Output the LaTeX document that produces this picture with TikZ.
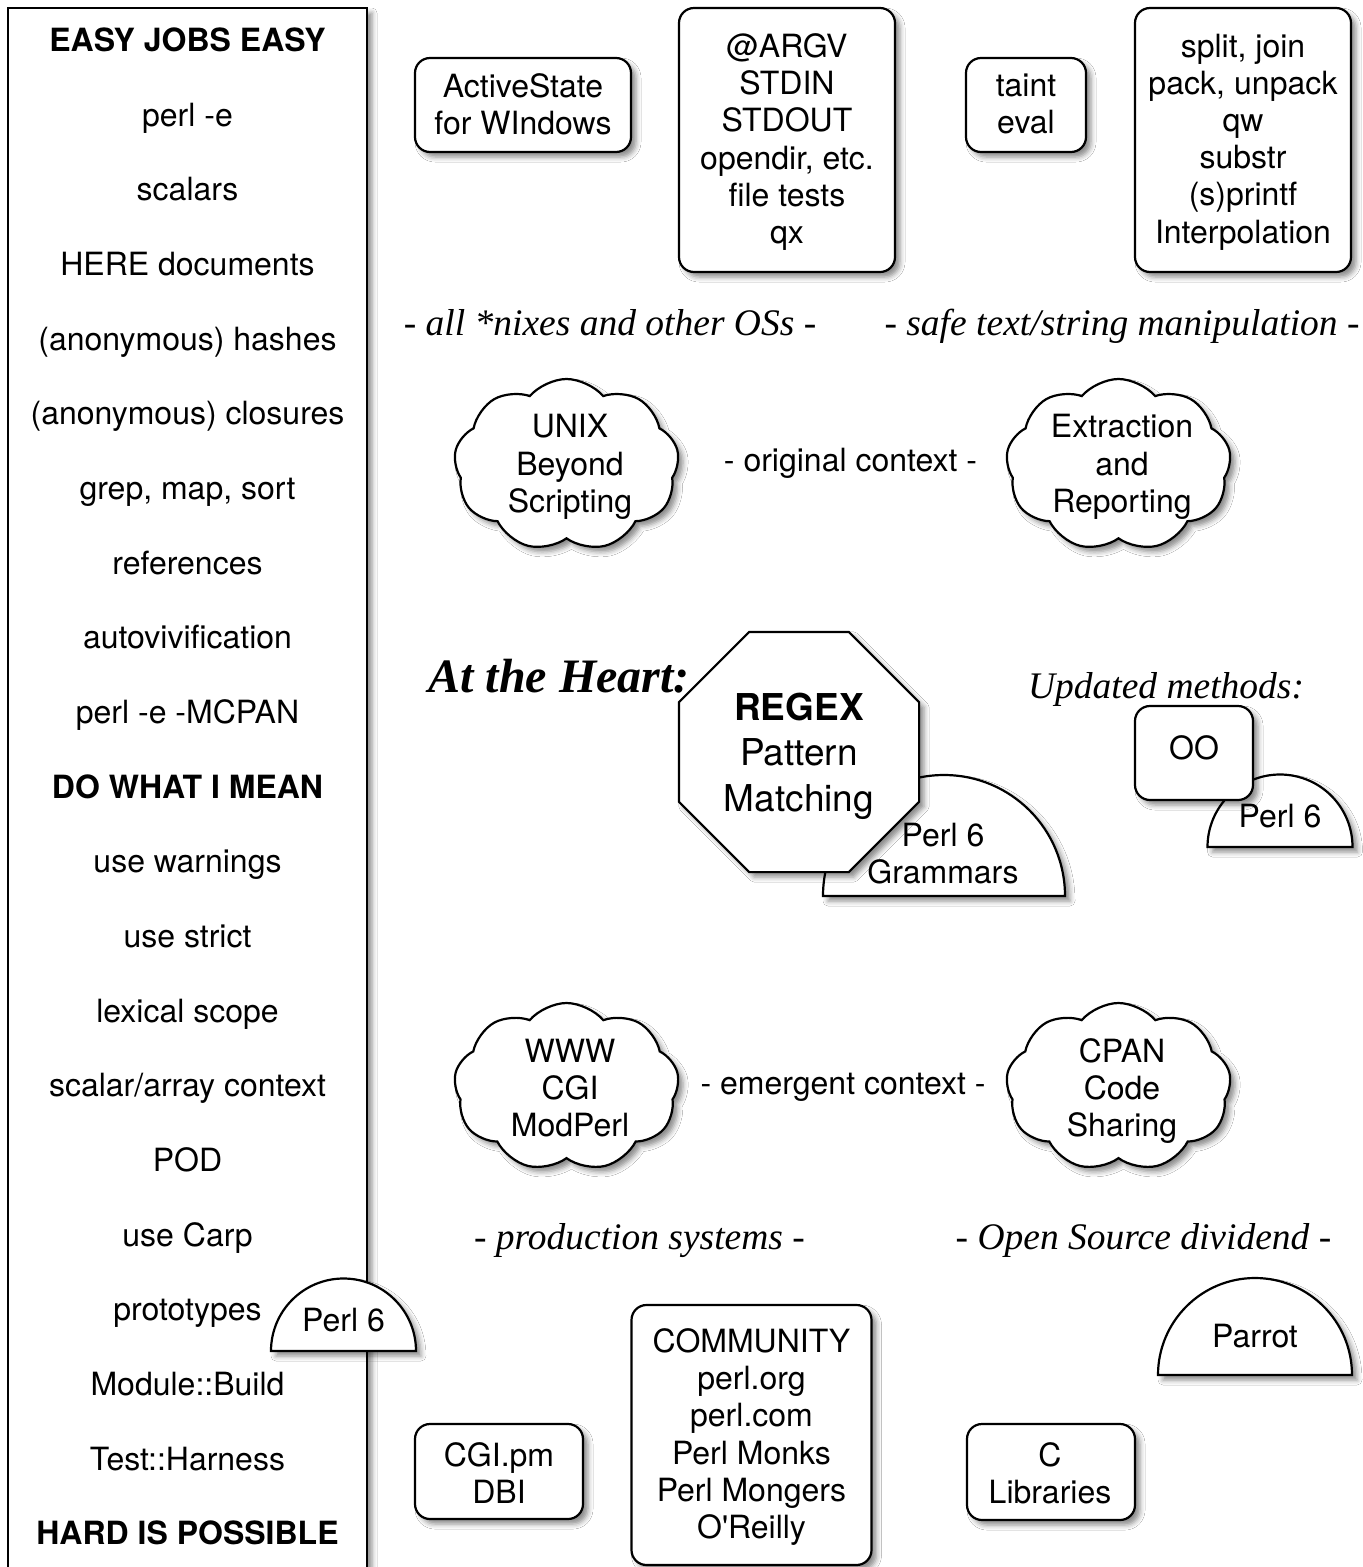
\documentclass[tikz,border=0pt]{standalone}
\usepackage{fontspec}
\setmainfont{Liberation Serif}
\setsansfont{TeX Gyre Heros}
\usetikzlibrary{shapes.geometric,shapes.symbols,shadows.blur}
\tikzset{
  shp/.style={draw=black, line width=2.2pt, fill=white,
    blur shadow={shadow xshift=5pt, shadow yshift=-5pt, shadow blur radius=5pt, shadow opacity=45}},
  rbox/.style={shp, rectangle, rounded corners=15pt, inner sep=0pt},
  cld/.style={shp, cloud, cloud puffs=9, cloud puff arc=100, inner sep=0pt},
  sans/.style={font=\sffamily\fontsize{32}{37.2}\selectfont, align=center, inner sep=0pt},
  col/.style={sans, anchor=base},
  ital/.style={font=\rmfamily\itshape\fontsize{37.5}{42}\selectfont, inner sep=0pt, anchor=base},
}
\begin{document}
\begin{tikzpicture}[x=1pt, y=1pt]
\useasboundingbox (0,0) rectangle (1363,-1567);
\fill[white] (0,0) rectangle (1363,-1567);

% left column
\path[shp] (8,-8) rectangle (367,-1620);
\node[col] (l1) at (187.5,-51.5) {\bfseries EASY JOBS EASY};
\node[col] (l2) at (187.5,-126.5) {perl -e};
\node[col] (l3) at (187.5,-200.5) {scalars};
\node[col] (l4) at (187.5,-275.5) {HERE documents};
\node[col] (l5) at (187.5,-350.5) {(anonymous) hashes};
\node[col] (l6) at (187.5,-424.5) {(anonymous) closures};
\node[col] (l7) at (187.5,-499.5) {grep, map, sort};
\node[col] (l8) at (187.5,-574.5) {references};
\node[col] (l9) at (187.5,-648.5) {autovivification};
\node[col] (l10) at (187.5,-723.5) {perl -e -MCPAN};
\node[col] (l11) at (187.5,-798.5) {\bfseries DO WHAT I MEAN};
\node[col] (l12) at (187.5,-872.5) {use warnings};
\node[col] (l13) at (187.5,-947.5) {use strict};
\node[col] (l14) at (187.5,-1022.5) {lexical scope};
\node[col] (l15) at (187.5,-1096.5) {scalar/array context};
\node[col] (l16) at (187.5,-1171.5) {POD};
\node[col] (l17) at (187.5,-1246.5) {use Carp};
\node[col] (l18) at (187.5,-1320.5) {prototypes};
\node[col] (l19) at (187.5,-1395.5) {Module::Build};
\node[col] (l20) at (187.5,-1470.5) {Test::Harness};
\node[col] (l21) at (187.5,-1544.5) {\bfseries HARD IS POSSIBLE};

% perl 6 half circle on left box
\path[shp] (271,-1351) arc[start angle=180, end angle=0, radius=72.5] -- cycle;
\node[col] (p6l) at (343.5,-1331.5) {Perl 6};

% top boxes
\node[rbox, minimum width=216pt, minimum height=94pt] (as) at (523,-105) {};
\node[sans] (ast) at (523,-104) {ActiveState\\for WIndows};
\node[rbox, minimum width=216pt, minimum height=264pt] (argv) at (787,-140) {};
\node[sans] (argvt) at (787,-142) {@ARGV\\STDIN\\STDOUT\\opendir, etc.\\file tests\\qx};
\node[rbox, minimum width=120pt, minimum height=94pt] (taint) at (1026,-105) {};
\node[sans] (taintt) at (1026,-104) {taint\\eval};
\node[rbox, minimum width=216pt, minimum height=264pt] (split) at (1243,-140) {};
\node[sans] (splitt) at (1243,-142) {split, join\\pack, unpack\\qw\\substr\\(s)printf\\Interpolation};

\node[ital] (os) at (610,-335) {- all *nixes and other OSs -};
\node[ital] (safe) at (1122,-335) {- safe text/string manipulation -};

% clouds top
\node[cld, minimum width=225pt, minimum height=172pt] (unix) at (566.5,-465) {};
\node[sans] (unixt) at (570,-467) {UNIX\\Beyond\\Scripting};
\node[cld, minimum width=225pt, minimum height=172pt] (extr) at (1118.5,-465) {};
\node[sans] (extrt) at (1122,-467) {Extraction\\and\\Reporting};
\node[col] (orig) at (850.5,-471.5) {- original context -};

% heart
\node[font=\rmfamily\bfseries\itshape\fontsize{48}{52}\selectfont, inner sep=0pt, anchor=base] (heart) at (559,-692) {At the Heart:};
\path[shp] (823,-896) arc[start angle=180, end angle=0, radius=121] -- cycle;
\node[sans] (gramt) at (943,-854) {Perl 6\\Grammars};
\node[shp, regular polygon, regular polygon sides=8, minimum size=260pt, inner sep=0pt] (regex) at (799,-752) {};
\node[sans, font=\sffamily\fontsize{37}{45.5}\selectfont] (regext) at (799,-756) {\bfseries REGEX\\Pattern\\Matching};

\node[ital] (upd) at (1166,-698) {Updated methods:};
\path[shp] (1207.5,-847) arc[start angle=180, end angle=0, radius=72.5] -- cycle;
\node[col] (p6oo) at (1280,-827.5) {Perl 6};
\node[rbox, minimum width=118pt, minimum height=94pt] (oo) at (1194,-753) {};
\node[col] (oot) at (1194,-759.5) {OO};

% clouds bottom
\node[cld, minimum width=225pt, minimum height=168pt] (www) at (566.5,-1087) {};
\node[sans] (wwwt) at (570,-1088) {WWW\\CGI\\ModPerl};
\node[cld, minimum width=225pt, minimum height=168pt] (cpan) at (1118.5,-1087) {};
\node[sans] (cpant) at (1122,-1091) {CPAN\\Code\\Sharing};
\node[col] (emerg) at (843,-1094.5) {- emergent context -};

\node[ital] (prod) at (639.5,-1249) {- production systems -};
\node[ital] (open) at (1143.5,-1249) {- Open Source dividend -};

% parrot
\path[shp] (1158,-1375) arc[start angle=180, end angle=0, radius=97] -- cycle;
\node[col] (parrot) at (1255,-1347.5) {Parrot};

% bottom boxes
\node[rbox, minimum width=168pt, minimum height=95pt] (cgi) at (499,-1471.5) {};
\node[sans] (cgit) at (499,-1473) {CGI.pm\\DBI};
\node[rbox, minimum width=240pt, minimum height=260pt] (comm) at (751.5,-1435) {};
\node[sans] (commt) at (751.5,-1437) {COMMUNITY\\perl.org\\perl.com\\Perl Monks\\Perl Mongers\\O\textquotesingle Reilly};
\node[rbox, minimum width=168pt, minimum height=96pt] (clib) at (1051,-1472) {};
\node[sans] (clibt) at (1050,-1473) {C\\Libraries};
\end{tikzpicture}
\end{document}
